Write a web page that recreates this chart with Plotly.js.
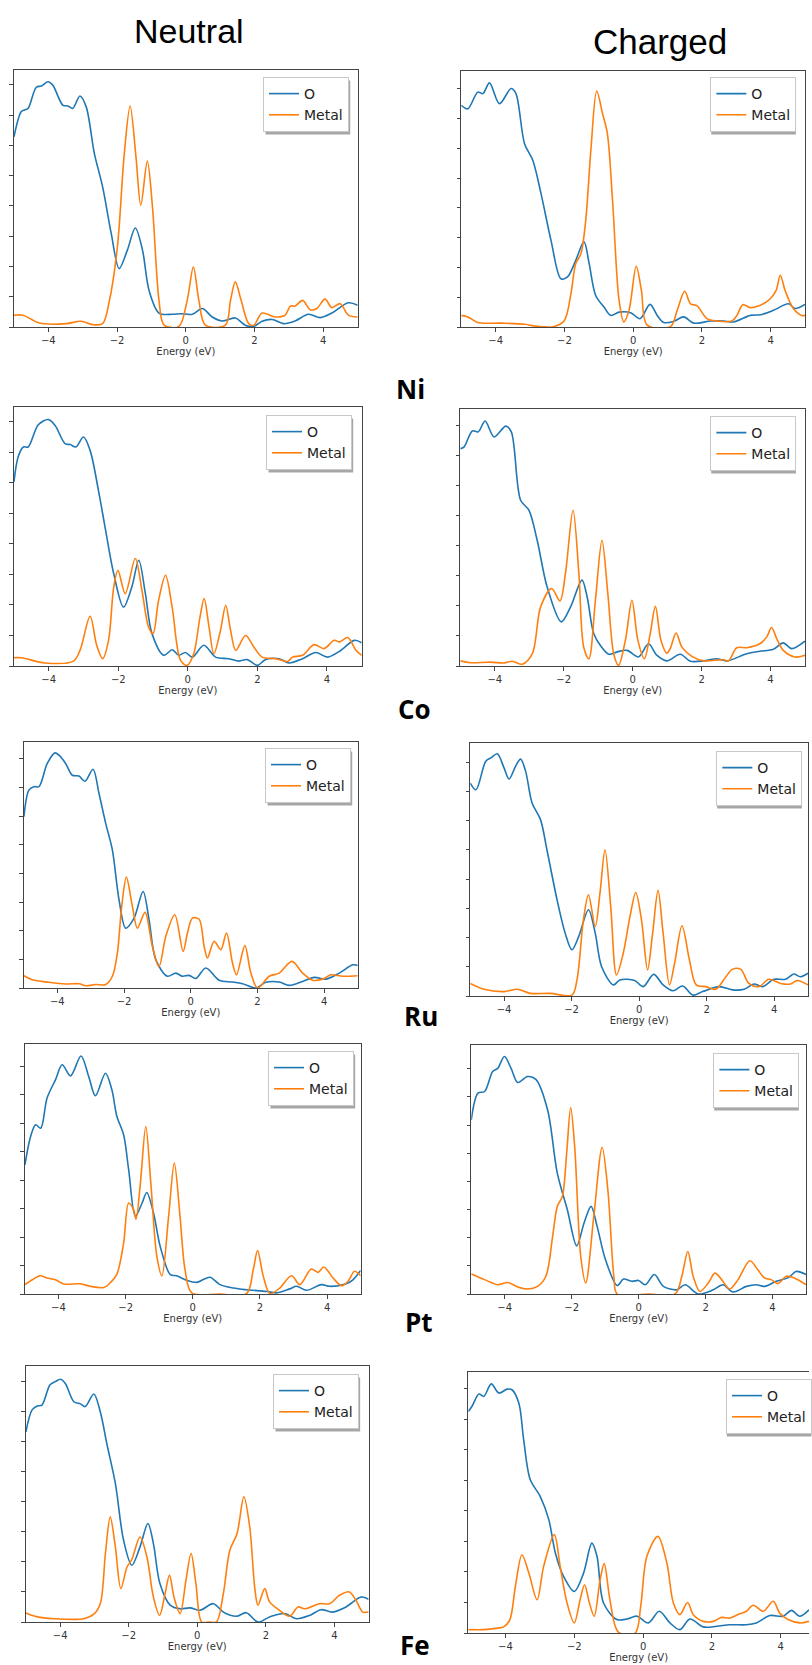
<!DOCTYPE html>
<html><head><meta charset="utf-8">
<script src="https://cdn.plot.ly/plotly-3.0.1.min.js"></script>
<style>html,body{margin:0;padding:0;background:#fff}#chart{width:812px;height:1665px}</style>
</head><body><div id="chart"></div>
<script>
// ---------------- DATA (energy in eV, DOS in tick units) ----------------
const columnTitles = ['Neutral', 'Charged'];
const metals = ['Ni', 'Co', 'Ru', 'Pt', 'Fe'];
const seriesNames = ['O', 'Metal'];
const xTickVals = [-4, -2, 0, 2, 4];
const xTitle = 'Energy (eV)';

// Ni neutral
const niNeuOE = [-5,-4.79,-4.69,-4.59,-4.35,-4.2,-4.01,-3.87,-3.58,-3.43,-3.29,-3.08,-2.9,-2.66,-2.42,-2.17,-1.94,-1.7,-1.47,-1.26,-1.07,-0.78,-0.39,-0.15,0.19,0.48,0.77,1.06,1.44,1.73,1.98,2.22,2.51,2.85,3.18,3.57,3.91,4.25,4.73,5.0];
const niNeuO  = [6.28,7.11,7.17,7.22,7.92,7.96,8.1,7.99,7.33,7.3,7.22,7.63,7.28,5.73,4.63,3.09,1.93,2.54,3.27,2.54,1.21,0.46,0.42,0.44,0.42,0.61,0.33,0.2,0.3,0.06,0.02,0.19,0.25,0.11,0.2,0.42,0.31,0.46,0.8,0.72];
const niNeuME = [-5,-4.74,-4.26,-3.48,-3.05,-2.71,-2.42,-2.23,-1.99,-1.79,-1.62,-1.45,-1.31,-1.12,-0.97,-0.78,-0.63,-0.2,0.04,0.22,0.38,0.57,1.15,1.3,1.44,1.61,1.83,1.98,2.22,2.6,2.89,3.04,3.18,3.4,3.62,3.81,4.05,4.25,4.49,4.73,5.0];
const niNeuM  = [0.39,0.39,0.13,0.11,0.19,0.08,0.11,0.83,2.65,5.73,7.3,5.62,4.02,5.48,3.97,0.88,0.06,0.02,0.88,1.98,0.88,0.06,0.06,0.88,1.49,0.88,0.11,0.06,0.46,0.33,0.39,0.69,0.69,0.88,0.57,0.61,0.92,0.64,0.77,0.39,0.33];
// Ni charged
const niChgOE = [-5,-4.81,-4.52,-4.37,-4.18,-3.89,-3.55,-3.41,-3.16,-2.92,-2.68,-2.39,-2.1,-1.91,-1.67,-1.43,-1.28,-1.09,-0.85,-0.65,-0.41,-0.07,0.2,0.49,0.7,0.89,1.18,1.47,1.76,2.25,2.63,2.92,3.41,3.7,4.08,4.52,4.71,5.0];
const niChgO  = [7.45,7.33,7.89,7.84,8.2,7.5,8.01,7.84,6.16,5.6,4.48,2.91,1.62,1.68,2.24,2.86,2.13,1.06,0.67,0.39,0.5,0.48,0.28,0.76,0.39,0.15,0.19,0.34,0.13,0.2,0.2,0.17,0.39,0.41,0.56,0.78,0.62,0.76];
const niChgME = [-5,-4.81,-4.52,-3.84,-3.16,-2.78,-2.29,-2.0,-1.81,-1.67,-1.52,-1.38,-1.23,-1.06,-0.89,-0.75,-0.6,-0.41,-0.27,-0.12,0.09,0.24,0.41,1.09,1.28,1.5,1.67,1.86,2.15,2.44,2.87,3.02,3.19,3.41,3.7,3.99,4.16,4.28,4.42,4.66,4.9,5.0];
const niChgM  = [0.39,0.34,0.15,0.13,0.09,0.02,0.02,0.22,1.12,2.13,2.46,3.58,5.94,7.93,7.17,6.5,4.26,0.9,0.17,0.56,2.04,1.23,0.06,0.02,0.56,1.2,0.78,0.71,0.28,0.2,0.2,0.39,0.75,0.65,0.73,0.95,1.23,1.74,1.23,0.62,0.39,0.39];
// Co neutral
const coNeuOE = [-5,-4.88,-4.73,-4.59,-4.3,-4.01,-3.82,-3.53,-3.38,-3.22,-3.0,-2.81,-2.57,-2.38,-2.13,-1.85,-1.61,-1.41,-1.22,-1.03,-0.69,-0.45,-0.26,-0.07,0.13,0.46,0.8,1.18,1.47,1.71,2.0,2.24,2.63,2.91,3.3,3.68,4.02,4.36,4.79,5.0];
const coNeuO  = [6.03,6.84,7.17,7.17,7.9,8.07,7.88,7.28,7.25,7.17,7.5,7.06,5.75,4.55,3.02,1.93,2.59,3.46,2.37,1.06,0.35,0.53,0.35,0.44,0.29,0.68,0.29,0.24,0.16,0.21,0.02,0.21,0.24,0.1,0.24,0.44,0.29,0.48,0.84,0.76];
const coNeuME = [-5,-4.78,-4.11,-3.29,-3.1,-2.81,-2.62,-2.45,-2.28,-2.13,-2.01,-1.8,-1.51,-1.32,-1.13,-1.0,-0.84,-0.64,-0.45,-0.21,-0.02,0.17,0.35,0.47,0.61,0.75,0.94,1.09,1.23,1.38,1.66,1.9,2.14,2.53,2.87,3.01,3.3,3.63,3.92,4.21,4.36,4.6,4.84,5.0];
const coNeuM  = [0.27,0.27,0.1,0.16,0.51,1.63,0.68,0.24,0.84,2.59,3.13,2.37,3.52,2.48,1.28,1.06,2.15,2.97,1.93,0.19,0.02,0.4,1.6,2.21,1.28,0.4,1.17,1.99,1.17,0.51,1.0,0.62,0.29,0.24,0.15,0.29,0.35,0.7,0.57,0.84,0.79,0.93,0.51,0.35];
// Co charged
const coChgOE = [-5,-4.89,-4.65,-4.48,-4.28,-4.02,-3.68,-3.52,-3.25,-3.01,-2.77,-2.48,-2.07,-1.8,-1.47,-1.32,-1.13,-0.94,-0.69,-0.45,-0.16,0.17,0.46,0.7,0.99,1.38,1.67,2.06,2.44,2.73,3.31,3.69,4.08,4.37,4.61,5.0];
const coChgO  = [7.24,7.3,7.83,7.8,8.16,7.63,7.99,7.8,5.52,5.19,4.19,2.63,1.47,1.97,2.86,2.3,1.08,0.69,0.39,0.47,0.52,0.3,0.74,0.36,0.17,0.39,0.16,0.17,0.24,0.17,0.41,0.49,0.56,0.77,0.58,0.83];
const coChgME = [-5,-4.7,-4.12,-3.73,-3.49,-3.2,-2.91,-2.67,-2.35,-2.11,-1.95,-1.73,-1.56,-1.42,-1.27,-1.08,-0.89,-0.72,-0.55,-0.41,-0.21,-0.02,0.15,0.34,0.51,0.66,0.82,0.99,1.09,1.26,1.43,1.72,2.06,2.63,2.78,3.02,3.31,3.69,3.89,4.03,4.18,4.37,4.71,5.0];
const coChgM  = [0.17,0.11,0.13,0.1,0.16,0.06,0.41,1.97,2.58,2.17,3.08,5.19,3.08,0.63,0.24,2.19,4.19,2.41,0.41,0.02,0.86,2.19,0.86,0.24,1.08,1.99,0.86,0.43,0.58,1.1,0.63,0.32,0.17,0.21,0.17,0.61,0.61,0.74,0.97,1.28,0.91,0.52,0.3,0.36];
// Ru neutral
const ruNeuOE = [-5,-4.85,-4.7,-4.55,-4.3,-4.07,-3.95,-3.75,-3.55,-3.35,-3.17,-2.93,-2.75,-2.55,-2.35,-2.15,-1.95,-1.7,-1.43,-1.25,-1.05,-0.7,-0.45,-0.25,-0.05,0.15,0.45,0.85,1.25,1.55,1.95,2.25,2.65,2.95,3.35,3.7,4.05,4.45,4.85,5.0];
const ruNeuO  = [5.98,6.91,7.03,7.03,7.84,8.21,8.13,7.84,7.43,7.4,7.22,7.64,6.79,5.75,4.82,3.08,2.09,2.44,3.37,2.38,0.99,0.41,0.52,0.41,0.44,0.33,0.7,0.27,0.21,0.15,0.0,0.2,0.21,0.09,0.23,0.37,0.31,0.52,0.81,0.79];
const ruNeuME = [-5,-4.75,-4.25,-3.75,-3.35,-3.15,-2.85,-2.55,-2.35,-2.2,-2.07,-1.93,-1.75,-1.6,-1.37,-1.15,-0.95,-0.75,-0.48,-0.23,-0.1,0.05,0.25,0.4,0.5,0.7,0.9,1.07,1.25,1.37,1.62,1.8,2.0,2.35,2.65,3.03,3.35,3.65,3.95,4.2,4.55,5.0];
const ruNeuM  = [0.43,0.29,0.2,0.14,0.15,0.08,0.12,0.12,0.41,1.22,2.85,3.87,2.85,2.09,2.64,1.45,0.75,1.8,2.56,1.28,1.92,2.44,2.4,1.45,1.05,1.63,1.34,1.92,0.87,0.46,1.48,0.52,0.0,0.41,0.52,0.93,0.52,0.27,0.31,0.46,0.41,0.43];
// Ru charged
const ruChgOE = [-5,-4.83,-4.54,-4.39,-4.2,-4.0,-3.85,-3.66,-3.51,-3.36,-3.17,-2.92,-2.73,-2.43,-2.19,-1.99,-1.79,-1.5,-1.3,-1.11,-0.76,-0.57,-0.13,0.12,0.43,0.71,1.0,1.29,1.59,1.88,2.37,2.76,3.11,3.4,3.65,3.99,4.33,4.58,4.77,5.0];
const ruChgO  = [7.28,7.05,8.03,8.14,8.28,7.8,7.42,7.85,8.1,7.68,6.6,6.03,5.0,3.29,2.15,1.58,2.03,2.95,2.15,1.0,0.38,0.55,0.53,0.32,0.74,0.38,0.18,0.34,0.03,0.15,0.32,0.21,0.23,0.41,0.32,0.57,0.57,0.75,0.66,0.78];
const ruChgME = [-5,-4.59,-4.0,-3.61,-3.22,-2.63,-1.99,-1.84,-1.65,-1.5,-1.3,-1.16,-1.01,-0.84,-0.67,-0.47,-0.27,-0.1,0.07,0.25,0.4,0.56,0.71,0.9,1.05,1.27,1.49,1.69,1.98,2.27,2.57,2.76,3.01,3.25,3.55,3.84,4.19,4.48,4.68,5.0];
const ruChgM  = [0.43,0.23,0.15,0.23,0.09,0.09,0.03,0.55,2.6,3.46,2.37,3.51,5.0,3.04,0.72,1.46,2.72,3.54,2.6,0.89,2.15,3.61,2.15,0.38,1.12,2.4,1.23,0.38,0.32,0.23,0.66,0.91,0.91,0.43,0.32,0.57,0.43,0.41,0.53,0.38];
// Pt neutral
const ptNeuOE = [-5,-4.83,-4.68,-4.53,-4.34,-4.09,-3.89,-3.64,-3.33,-3.1,-2.9,-2.6,-2.41,-2.26,-2.06,-1.91,-1.71,-1.51,-1.37,-1.17,-0.97,-0.67,-0.48,-0.18,0.12,0.51,0.81,1.21,1.6,2.2,2.5,2.89,3.09,3.39,3.83,4.08,4.57,4.77,5.0];
const ptNeuO  = [4.54,5.54,5.95,5.83,6.89,7.53,8.06,7.67,8.37,7.65,6.97,7.76,7.18,6.24,5.6,4.37,2.73,3.2,3.57,2.85,1.67,0.68,0.64,0.48,0.41,0.59,0.33,0.21,0.15,0.09,0.04,0.18,0.27,0.13,0.33,0.27,0.36,0.5,0.83];
const ptNeuME = [-5,-4.78,-4.55,-4.34,-4.09,-3.84,-3.35,-3.05,-2.65,-2.46,-2.26,-2.06,-1.91,-1.76,-1.69,-1.56,-1.4,-1.25,-1.07,-0.92,-0.72,-0.55,-0.38,-0.23,-0.03,0.8,1.6,1.8,1.93,2.1,2.3,2.59,2.94,3.19,3.53,3.73,3.9,4.18,4.43,4.62,4.82,5.0];
const ptNeuM  = [0.33,0.5,0.64,0.56,0.5,0.35,0.36,0.27,0.23,0.39,0.7,1.79,3.2,2.96,2.63,3.9,5.89,3.9,1.32,0.64,2.73,4.6,2.73,0.85,0.04,0.0,0.01,0.85,1.53,0.62,0.01,0.21,0.64,0.33,0.88,0.76,0.95,0.56,0.29,0.44,0.8,0.64];
// Pt charged
const ptChgOE = [-5,-4.8,-4.6,-4.36,-4.21,-4.01,-3.81,-3.61,-3.32,-3.07,-2.72,-2.43,-2.13,-1.85,-1.63,-1.42,-1.24,-0.99,-0.64,-0.45,-0.2,0,0.2,0.47,0.74,1.14,1.39,1.78,2.23,2.52,2.82,3.22,3.51,3.76,4.11,4.5,4.7,5.0];
const ptChgO  = [6.18,7.13,7.19,7.9,8.01,8.43,8.01,7.51,7.72,7.62,6.54,4.29,2.99,1.71,2.52,3.11,2.4,1.22,0.3,0.53,0.45,0.48,0.33,0.69,0.27,0.15,0.33,0.0,0.15,0.33,0.07,0.27,0.33,0.27,0.45,0.6,0.8,0.69];
const ptChgME = [-5,-4.6,-4.21,-3.91,-3.61,-3.32,-3.02,-2.77,-2.57,-2.43,-2.28,-2.15,-2.03,-1.91,-1.73,-1.58,-1.34,-1.09,-0.92,-0.74,-0.64,0.3,1.09,1.29,1.47,1.63,1.83,2.08,2.28,2.48,2.72,2.97,3.32,3.56,3.76,3.96,4.16,4.41,4.65,5.0];
const ptChgM  = [0.71,0.51,0.33,0.41,0.25,0.18,0.27,0.63,2.04,3.11,3.46,5.0,6.62,5.23,1.34,0.39,2.75,5.21,3.7,0.63,0.0,0.0,0.0,0.63,1.51,0.63,0.09,0.39,0.74,0.51,0.18,0.51,1.18,0.86,0.57,0.51,0.37,0.63,0.57,0.33];
// Fe neutral
const feNeuOE = [-5,-4.82,-4.67,-4.53,-4.3,-4.14,-3.99,-3.85,-3.6,-3.41,-3.27,-3.02,-2.83,-2.64,-2.39,-2.15,-1.91,-1.67,-1.44,-1.28,-1.09,-0.79,-0.5,-0.21,0.08,0.47,0.76,1.14,1.43,1.77,2.11,2.55,2.89,3.28,3.61,3.95,4.34,4.78,5.0];
const feNeuO  = [6.33,7.06,7.19,7.22,7.89,8.0,8.08,7.94,7.33,7.26,7.17,7.59,7.0,5.94,4.61,2.72,1.89,2.5,3.28,2.61,1.28,0.56,0.44,0.47,0.39,0.61,0.33,0.19,0.31,0.0,0.17,0.28,0.11,0.22,0.41,0.33,0.5,0.83,0.76];
const feNeuME = [-5,-4.67,-4.19,-3.31,-3.02,-2.83,-2.68,-2.54,-2.39,-2.23,-2.05,-1.91,-1.67,-1.47,-1.28,-1.1,-0.94,-0.81,-0.68,-0.5,-0.33,-0.18,-0.04,0.13,0.35,0.56,0.76,0.95,1.16,1.36,1.53,1.68,1.77,1.97,2.11,2.4,2.69,2.94,3.13,3.57,3.86,4.15,4.44,4.63,4.83,5.0];
const feNeuM  = [0.3,0.17,0.11,0.11,0.26,0.61,2.28,3.5,2.5,1.11,1.83,2.08,2.83,2.17,0.83,0.22,0.94,1.56,0.83,0.28,1.39,2.28,1.28,0.0,0.0,0.0,0.94,2.39,2.94,4.17,3.17,1.11,0.56,1.11,0.67,0.39,0.19,0.5,0.44,0.61,0.61,0.89,1.0,0.72,0.33,0.33];
// Fe charged
const feChgOE = [-5.08,-4.97,-4.77,-4.63,-4.41,-4.19,-3.95,-3.81,-3.61,-3.47,-3.28,-2.99,-2.74,-2.55,-2.31,-2.0,-1.73,-1.49,-1.34,-1.15,-0.76,-0.47,-0.18,0.15,0.47,0.78,1.07,1.36,1.75,2.14,2.52,3.0,3.29,3.68,4.07,4.31,4.55,4.82];
const feChgO  = [7.25,7.42,7.82,7.74,8.15,7.85,7.98,7.96,7.52,6.32,5.02,4.47,3.71,2.62,1.85,1.36,1.96,2.94,2.51,0.98,0.44,0.46,0.55,0.33,0.71,0.33,0.11,0.46,0.2,0.22,0.27,0.27,0.33,0.57,0.55,0.74,0.55,0.76];
const feChgME = [-5.08,-4.63,-4.24,-4.05,-3.87,-3.71,-3.52,-3.32,-3.08,-2.89,-2.58,-2.41,-2.21,-2.0,-1.83,-1.7,-1.56,-1.42,-1.25,-1.13,-0.98,-0.81,-0.69,-0.23,-0.07,0.11,0.43,0.69,0.88,1.07,1.29,1.46,1.75,2.04,2.28,2.52,2.81,3.0,3.2,3.49,3.78,3.97,4.21,4.55,4.82];
const feChgM  = [0.11,0.11,0.16,0.2,0.44,1.53,2.56,1.96,1.09,2.18,3.22,2.18,0.98,0.33,1.09,1.58,0.98,0.55,1.74,2.27,1.2,0.22,0.0,0.0,0.87,2.51,3.16,2.29,0.98,0.6,1.0,0.6,0.38,0.38,0.51,0.49,0.63,0.71,0.91,0.71,1.04,0.65,0.44,0.33,0.38];

// ---------------- LAYOUT GEOMETRY (pixels) ----------------
const W = 812, H = 1665;
const panelSeries = [
  [niNeuOE, niNeuO, niNeuME, niNeuM], [niChgOE, niChgO, niChgME, niChgM],
  [coNeuOE, coNeuO, coNeuME, coNeuM], [coChgOE, coChgO, coChgME, coChgM],
  [ruNeuOE, ruNeuO, ruNeuME, ruNeuM], [ruChgOE, ruChgO, ruChgME, ruChgM],
  [ptNeuOE, ptNeuO, ptNeuME, ptNeuM], [ptChgOE, ptChgO, ptChgME, ptChgM],
  [feNeuOE, feNeuO, feNeuME, feNeuM], [feChgOE, feChgO, feChgME, feChgM]
];
// [left, right, top, bottom, yTop, xMin, xMax, legendLeft, legendTop, rightSpine]
const geom = [
  [14, 359, 70, 327, 8.49, -5, 5, 264, 77, true],
  [463, 808, 71, 327, 8.60, -5, 5, 713, 77, true],
  [14, 363, 407, 666, 8.48, -5, 5, 267, 415, true],
  [462, 808, 409, 666, 8.56, -5, 5, 713, 416, true],
  [24, 359, 742, 988, 8.59, -5, 5, 266, 748, true],
  [472, 811, 743, 996, 8.65, -5, 5, 719, 751, true],
  [25, 362, 1044, 1294, 8.79, -5, 5, 269, 1051, true],
  [473, 809, 1045, 1294, 8.84, -5, 5, 716, 1053, true],
  [26, 370, 1366, 1622, 8.52, -5, 5, 274, 1374, true],
  [470, 812, 1372, 1633, 8.54, -5.08, 4.82, 729, 1379, false]
];
const blue = '#1f77b4', orange = '#ff7f0e';
const axisColor = '#444';
const tickFont = {family: 'DejaVu Sans', size: 10, color: '#333'};

const data = [];
const layout = {
  width: W, height: H, margin: {l: 0, r: 0, t: 0, b: 0},
  paper_bgcolor: '#fff', plot_bgcolor: '#fff', showlegend: true,
  annotations: [], shapes: []
};

geom.forEach((g, i) => {
  const n = i + 1;
  const xs = n === 1 ? '' : String(n);
  const [l, r, t, b, yTop, x0, x1, lgL, lgT, rightSpine] = g;
  const s = panelSeries[i];
  const legName = n === 1 ? 'legend' : 'legend' + n;
  data.push({x: s[0], y: s[1], name: seriesNames[0], type: 'scatter', mode: 'lines',
    line: {color: blue, width: 1.6, shape: 'spline', smoothing: 0.9},
    xaxis: 'x' + xs, yaxis: 'y' + xs, legend: legName, hoverinfo: 'skip'});
  data.push({x: s[2], y: s[3], name: seriesNames[1], type: 'scatter', mode: 'lines',
    line: {color: orange, width: 1.6, shape: 'spline', smoothing: 0.9},
    xaxis: 'x' + xs, yaxis: 'y' + xs, legend: legName, hoverinfo: 'skip'});
  layout['xaxis' + xs] = {
    domain: [l / W, r / W], range: [x0, x1], anchor: 'y' + xs,
    showline: true, mirror: true, linecolor: axisColor, linewidth: 1,
    ticks: 'outside', ticklen: 3.5, tickcolor: axisColor, tickwidth: 1,
    tickvals: xTickVals, tickfont: tickFont,
    showgrid: false, zeroline: false,
    title: {text: xTitle, font: {family: 'DejaVu Sans', size: 10, color: '#333'}, standoff: 3}
  };
  layout['yaxis' + xs] = {
    domain: [1 - b / H, 1 - t / H], range: [0, yTop], anchor: 'x' + xs,
    showline: true, mirror: rightSpine, linecolor: axisColor, linewidth: 1,
    ticks: 'outside', ticklen: 3.5, tickcolor: axisColor, tickwidth: 1,
    tick0: 0, dtick: 1, showticklabels: false,
    showgrid: false, zeroline: false
  };
  layout[legName] = {
    x: lgL / W, y: 1 - lgT / H, xanchor: 'left', yanchor: 'top',
    bgcolor: '#ffffff', bordercolor: '#c8c8c8', borderwidth: 1,
    font: {family: 'DejaVu Sans', size: 14, color: '#222'},
    tracegroupgap: 0, itemclick: false, itemdoubleclick: false
  };
});

// Column titles
layout.annotations.push({text: columnTitles[0], xref: 'paper', yref: 'paper',
  x: 190 / W, y: 1 - 31 / H, xanchor: 'center', yanchor: 'middle', showarrow: false,
  font: {family: 'Liberation Sans', size: 34, color: '#000'}});
layout.annotations.push({text: columnTitles[1], xref: 'paper', yref: 'paper',
  x: 662 / W, y: 1 - 41 / H, xanchor: 'center', yanchor: 'middle', showarrow: false,
  font: {family: 'Liberation Sans', size: 35, color: '#000'}});
// Metal labels: [left x, center y]
const metalPos = [[395, 389], [397, 709], [403, 1016], [404, 1322], [399, 1645]];
metals.forEach((m, k) => {
  layout.annotations.push({text: '<b>' + m + '</b>', xref: 'paper', yref: 'paper',
    x: metalPos[k][0] / W, y: 1 - metalPos[k][1] / H, xanchor: 'left', yanchor: 'middle',
    showarrow: false, font: {family: 'Open Sans', size: 26, color: '#000'}});
});

Plotly.newPlot('chart', data, layout, {staticPlot: true, displayModeBar: false}).then(gd => {
  // matplotlib-style legend drop shadows, sized from the rendered legend boxes
  const shadows = [];
  gd.querySelectorAll('g.infolayer > g').forEach(grp => {
    const cls = grp.getAttribute('class') || '';
    if (!/^legend\d*$/.test(cls)) return;
    const bg = grp.querySelector('rect.bg');
    if (!bg) return;
    const m = /translate\(\s*([-\d.]+)[ ,]+([-\d.]+)\s*\)/.exec(grp.getAttribute('transform') || '');
    if (!m) return;
    const lx = parseFloat(m[1]) + parseFloat(bg.getAttribute('x') || 0);
    const ly = parseFloat(m[2]) + parseFloat(bg.getAttribute('y') || 0);
    const w = parseFloat(bg.getAttribute('width')), h = parseFloat(bg.getAttribute('height'));
    const off = 3;
    shadows.push({type: 'rect', xref: 'paper', yref: 'paper', layer: 'above',
      x0: (lx + off) / W, x1: (lx + w + off) / W,
      y0: 1 - (ly + off) / H, y1: 1 - (ly + h + off) / H,
      fillcolor: 'rgba(0,0,0,0.35)', line: {width: 0}});
  });
  if (shadows.length) Plotly.relayout(gd, {shapes: shadows});
});
</script>
</body></html>
